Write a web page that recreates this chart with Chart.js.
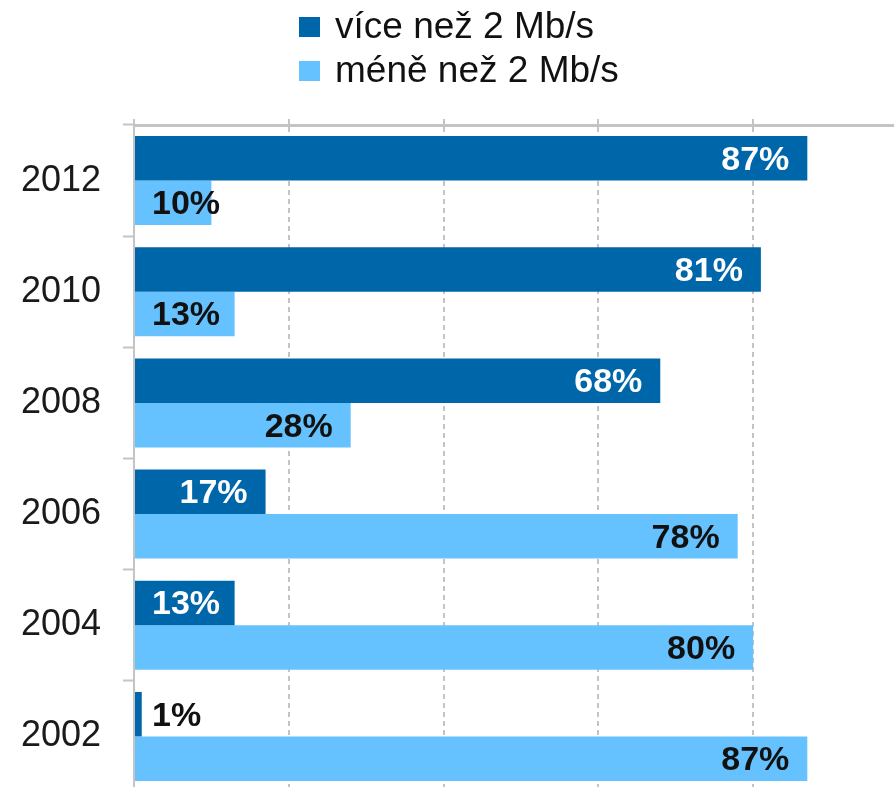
<!DOCTYPE html>
<html>
<head>
<meta charset="utf-8">
<script src="https://cdn.jsdelivr.net/npm/chart.js@4.4.1/dist/chart.umd.min.js"></script>
<style>
    html, body { margin: 0; padding: 0; background: #fff; overflow: hidden; }
    canvas { display: block; }
</style>
</head>
<body>
<canvas id="graf" width="894" height="792"></canvas>
<script>
const roky = ['2012', '2010', '2008', '2006', '2004', '2002'];
const viceNez2 = [87, 81, 68, 17, 13, 1];
const meneNez2 = [10, 13, 28, 78, 80, 87];
const osaX = [0, 20, 40, 60, 80];

const tmava = '#0066aa';
const svetla = '#66c2ff';
const seda = '#c4c4c4';
const pismo = '"Liberation Sans", Arial, sans-serif';

// legenda pod sebou, vlevo zarovnana
const legendaPlugin = {
    id: 'legendaPodSebou',
    afterDraw(chart) {
        let ctx = chart.ctx;
        let x0 = chart.width / 2 - 148;
        ctx.save();
        ctx.font = '37px ' + pismo;
        ctx.textBaseline = 'middle';
        ctx.textAlign = 'left';
        chart.data.datasets.forEach((ds, i) => {
            let y = 27 + i * 44;
            ctx.fillStyle = ds.backgroundColor;
            ctx.fillRect(x0, y - 10, 21, 20);
            ctx.fillStyle = '#111';
            ctx.fillText(ds.label, x0 + 36, y + 1);
        });
        ctx.restore();
    }
};

// popisky procent na sloupcich
const popiskyPlugin = {
    id: 'popisky',
    afterDatasetsDraw(chart) {
        let ctx = chart.ctx;
        let minX = chart.chartArea.left + 18;
        ctx.save();
        ctx.font = 'bold 34px ' + pismo;
        ctx.textBaseline = 'middle';
        ctx.textAlign = 'left';
        chart.data.datasets.forEach((ds, i) => {
            chart.getDatasetMeta(i).data.forEach((bar, j) => {
                let text = ds.data[j] + '%';
                let w = ctx.measureText(text).width;
                let x = bar.x - 18 - w;
                let uvnitr = true;
                if (x < minX) {
                    x = minX;
                    uvnitr = x + w < bar.x;
                }
                ctx.fillStyle = (i === 0 && uvnitr) ? '#fff' : '#111';
                ctx.fillText(text, x, bar.y + 2);
            });
        });
        ctx.restore();
    }
};

let graf = document.getElementById('graf').getContext('2d');

let chart = new Chart(graf, {
    type: 'bar',
    data: {
        labels: roky,
        datasets: [{
                label: 'více než 2 Mb/s',
                data: viceNez2,
                backgroundColor: tmava
            },
            {
                label: 'méně než 2 Mb/s',
                data: meneNez2,
                backgroundColor: svetla
            }
        ]
    },
    options: {
        indexAxis: 'y',
        responsive: false,
        animation: false,
        layout: { padding: { top: 119, left: 0, right: 0, bottom: 0 } },
        datasets: {
            bar: { categoryPercentage: 0.8, barPercentage: 1.0 }
        },
        plugins: {
            legend: { display: false },
            tooltip: { enabled: false }
        },
        scales: {
            x: {
                position: 'top',
                min: 0,
                max: 98.2,
                afterBuildTicks: (axis) => {
                    axis.ticks = osaX.map(v => ({ value: v }));
                },
                ticks: { display: false },
                grid: {
                    color: seda,
                    lineWidth: 2,
                    tickLength: 6,
                    tickColor: seda,
                    tickWidth: 2
                },
                border: { color: seda, width: 3, dash: [5, 4] }
            },
            y: {
                afterFit: (axis) => {
                    axis.width = 134;
                    axis.paddingTop = 0;
                    axis.paddingBottom = 0;
                },
                ticks: {
                    color: '#1a1a1a',
                    padding: 22,
                    font: { family: pismo, size: 36 }
                },
                grid: {
                    drawOnChartArea: false,
                    tickLength: 11,
                    tickColor: seda,
                    tickWidth: 2
                },
                border: { color: seda, width: 2 }
            }
        }
    },
    plugins: [legendaPlugin, popiskyPlugin]
});
</script>
</body>
</html>
